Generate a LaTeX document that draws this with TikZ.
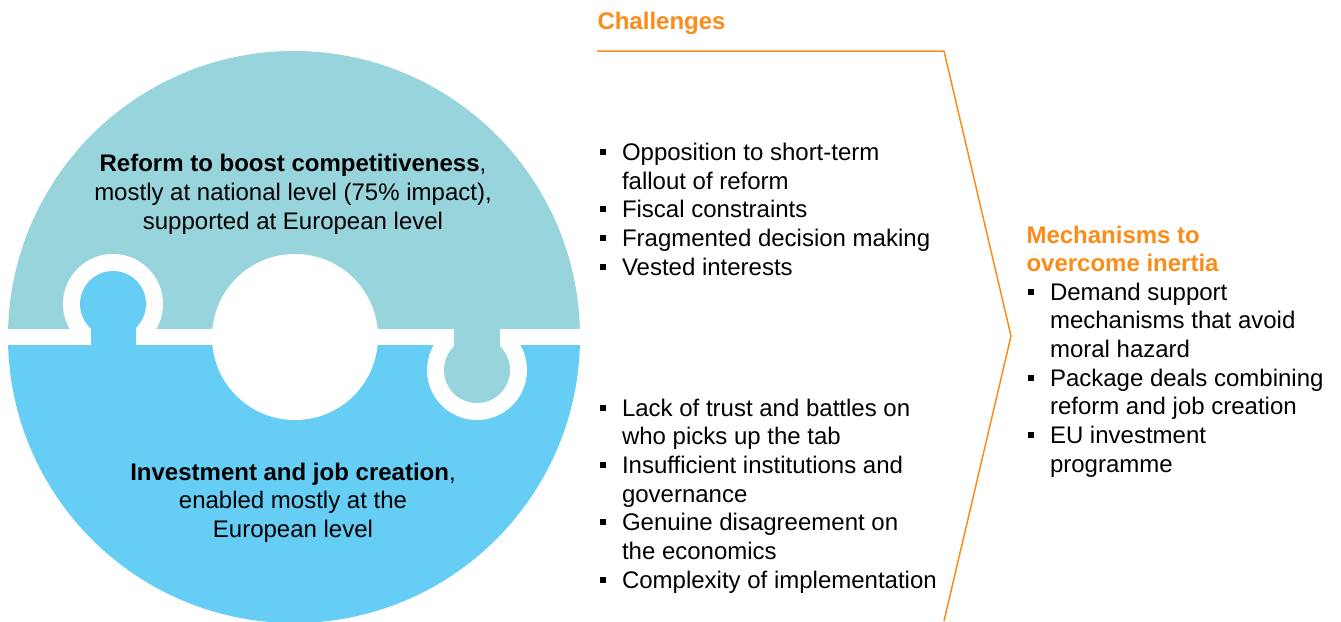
\documentclass[tikz,border=0pt]{standalone}
\usepackage{fontspec}
\setmainfont{Liberation Sans}
\definecolor{pzteal}{HTML}{97D4DC}
\definecolor{pzblue}{HTML}{66CDF5}
\definecolor{orng}{HTML}{FB8C1A}
\newcommand{\topstrut}{\rule{0pt}{20pt}}
\newcommand{\bul}{\llap{\rule[5.5pt]{6pt}{6pt}\hspace{16pt}}}
\tikzset{
  txt/.style={inner sep=0pt, outer sep=0pt, font=\fontsize{24}{28.7}\selectfont},
  listbox/.style={txt, align=left, anchor=north west},
  headbox/.style={txt, align=left, anchor=north west, text=orng, font=\fontsize{24}{28.4}\selectfont\bfseries},
  chev/.style={draw=orng, line width=1.5pt, line join=miter}
}
\begin{document}
\begin{tikzpicture}[x=1pt,y=-1pt]
\useasboundingbox (0,0) rectangle (1341,621);
% puzzle circle
\begin{scope}
  \clip (294,337) circle[radius=286pt];
  \fill[pzteal] (0,0) rectangle (600,337);
  \fill[pzblue] (0,337) rectangle (600,640);
\end{scope}
\fill[white] (0,329) rectangle (600,345);
\begin{scope}
  \clip (0,0) rectangle (600,337);
  \fill[white] (113,304) circle[radius=50pt];
\end{scope}
\begin{scope}
  \clip (0,337) rectangle (600,640);
  \fill[white] (477,370) circle[radius=50pt];
\end{scope}
\fill[pzblue] (113,304) circle[radius=33pt];
\fill[pzblue] (90.5,318) rectangle (136,346);
\fill[pzteal] (477,370) circle[radius=33pt];
\fill[pzteal] (454,328) rectangle (499.5,356);
\fill[white] (295,337) circle[radius=83pt];
% circle texts
\node[txt, align=center, anchor=north] (reform) at (293,151.7)
  {\topstrut\textbf{Reform to boost competitiveness},\\mostly at national level (75\% impact),\\supported at European level};
\node[txt, align=center, anchor=north] (invest) at (293,460)
  {\topstrut\textbf{Investment and job creation},\\enabled mostly at the\\European level};
% challenges
\node[headbox] (chal) at (597.5,9.3) {\topstrut Challenges};
\node[listbox] (up) at (622,140.5)
  {\topstrut\bul Opposition to short-term\\fallout of reform\\\bul Fiscal constraints\\\bul Fragmented decision making\\\bul Vested interests};
\node[listbox] (low) at (622,396)
  {\topstrut\bul Lack of trust and battles on\\who picks up the tab\\\bul Insufficient institutions and\\governance\\\bul Genuine disagreement on\\the economics\\\bul Complexity of implementation};
% chevron
\coordinate (c0) at (597,51);
\coordinate (c1) at (944,51);
\coordinate (c2) at (1011,336);
\coordinate (c3) at (944,621);
\draw[chev] (c0) -- (c1) -- (c2) -- (c3);
% mechanisms
\node[headbox] (mech) at (1026.5,223.3) {\topstrut Mechanisms to\\overcome inertia};
\node[listbox] (mlist) at (1050,280)
  {\topstrut\bul Demand support\\mechanisms that avoid\\moral hazard\\\bul Package deals combining\\reform and job creation\\\bul EU investment\\programme};
\end{tikzpicture}
\end{document}
